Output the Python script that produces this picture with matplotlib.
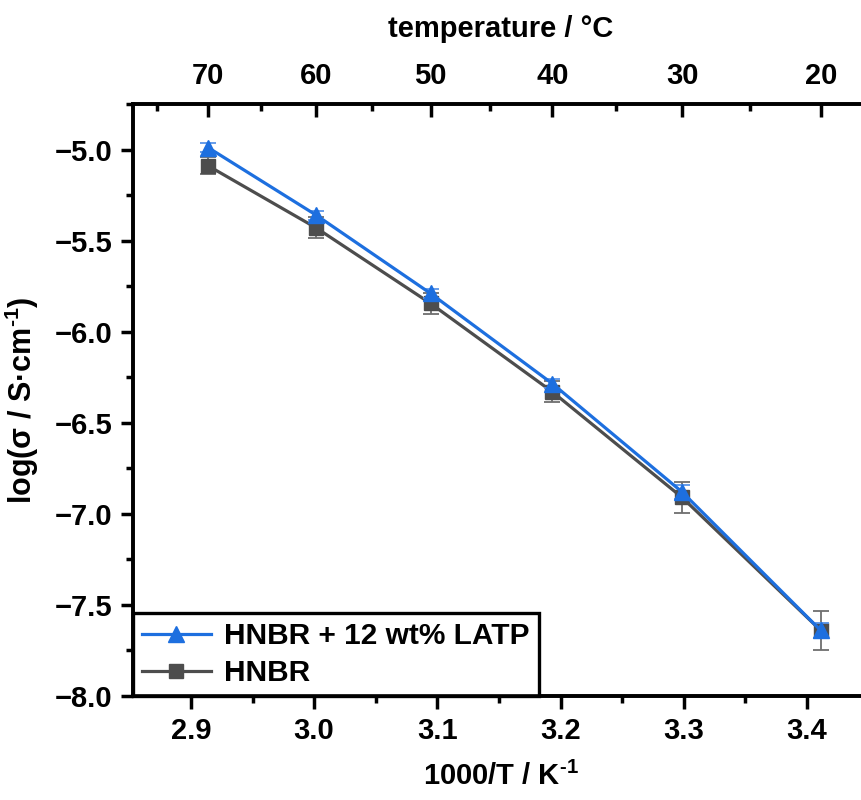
import numpy as np
import matplotlib
matplotlib.use("Agg")
import matplotlib.pyplot as plt
from matplotlib.ticker import MultipleLocator, FixedLocator
from matplotlib.lines import Line2D

# Measurement temperatures (°C) and conductivity data
temps_c = [70, 60, 50, 40, 30, 20]
log_sigma_latp = [-4.99, -5.36, -5.79, -6.285, -6.88, -7.64]
err_latp = [0.025, 0.025, 0.025, 0.025, 0.04, 0.04]
log_sigma_hnbr = [-5.09, -5.43, -5.845, -6.33, -6.91, -7.64]
err_hnbr = [0.047, 0.058, 0.06, 0.058, 0.087, 0.107]
minor_temps_c = [75, 65, 55, 45, 35, 25, 15]

label_latp = "HNBR + 12 wt% LATP"
label_hnbr = "HNBR"

inv_T = 1000.0 / (np.array(temps_c) + 273.15)
inv_T_minor = 1000.0 / (np.array(minor_temps_c) + 273.15)

plt.rcParams["font.family"] = ["Liberation Sans", "DejaVu Sans"]
plt.rcParams["font.weight"] = "bold"
plt.rcParams["axes.labelweight"] = "bold"
plt.rcParams["mathtext.fontset"] = "custom"
plt.rcParams["mathtext.rm"] = "Liberation Sans:bold"
plt.rcParams["mathtext.bf"] = "Liberation Sans:bold"
plt.rcParams["mathtext.default"] = "bf"

BLUE = "#1d6fdf"
GRAY = "#4d4d4d"

fig = plt.figure(figsize=(8.61, 8.0), dpi=100)
ax = fig.add_axes([133 / 861, 104 / 800, 735.5 / 861, 592 / 800])

ax.errorbar(inv_T, log_sigma_hnbr, yerr=err_hnbr, color=GRAY, lw=2.3,
            marker="s", ms=10, mec=GRAY, mfc=GRAY,
            ecolor="#6e6e6e", elinewidth=1.3, capsize=6, capthick=1.3,
            zorder=3)
ax.errorbar(inv_T, log_sigma_latp, yerr=err_latp, color=BLUE, lw=2.3,
            marker="^", ms=11, mec=BLUE, mfc=BLUE,
            ecolor="#5a95e8", elinewidth=1.3, capsize=6, capthick=1.3,
            zorder=4)

ax.set_xlim(2.853, 3.45)
ax.set_ylim(-8.0, -4.75)

ax.xaxis.set_major_locator(MultipleLocator(0.1))
ax.xaxis.set_minor_locator(MultipleLocator(0.05))
ax.yaxis.set_major_locator(MultipleLocator(0.5))
ax.yaxis.set_minor_locator(MultipleLocator(0.25))
ax.xaxis.set_major_formatter(matplotlib.ticker.FormatStrFormatter("%.1f"))
ax.yaxis.set_major_formatter(matplotlib.ticker.FuncFormatter(
    lambda v, p: ("\u2212%.1f" % abs(v)) if v < 0 else "%.1f" % v))

for s in ax.spines.values():
    s.set_linewidth(2.6)

ax.tick_params(axis="both", which="major", direction="out", length=9,
               width=2.5, labelsize=21, pad=6)
ax.tick_params(axis="both", which="minor", direction="out", length=5,
               width=2.5)
ax.tick_params(axis="x", which="both", top=False)
ax.tick_params(axis="y", which="both", right=False)

ax.set_xlabel(r"1000/T / K$^{\text{-1}}$", fontsize=21, labelpad=12)
ax.set_ylabel(r"log(σ / S·cm$^{\text{-1}}$)", fontsize=22, labelpad=10)

# Temperature scale on top
top = ax.twiny()
top.set_xlim(ax.get_xlim())
top.xaxis.set_major_locator(FixedLocator(inv_T))
top.set_xticklabels([str(t) for t in temps_c])
top.xaxis.set_minor_locator(FixedLocator(inv_T_minor))
top.tick_params(axis="x", which="major", direction="in", length=9,
                width=2.5, labelsize=21, pad=10)
top.tick_params(axis="x", which="minor", direction="in", length=5,
                width=2.5)
top.set_xlabel("temperature / °C", fontsize=21, labelpad=18)
for s in top.spines.values():
    s.set_linewidth(2.6)

handles = [
    Line2D([], [], color=BLUE, lw=2.3, marker="^", ms=11, mfc=BLUE, mec=BLUE),
    Line2D([], [], color=GRAY, lw=2.3, marker="s", ms=10, mfc=GRAY, mec=GRAY),
]
leg = ax.legend(handles, [label_latp, label_hnbr], loc="lower left",
                bbox_to_anchor=(0.0, 0.0), borderaxespad=0.0,
                fontsize=21.5, frameon=True, fancybox=False, framealpha=1,
                edgecolor="black", handlelength=2.3, handletextpad=0.45,
                labelspacing=0.3, borderpad=0.3)
leg.get_frame().set_linewidth(2.4)
leg.set_zorder(10)

fig.savefig("out.png", dpi=100)
